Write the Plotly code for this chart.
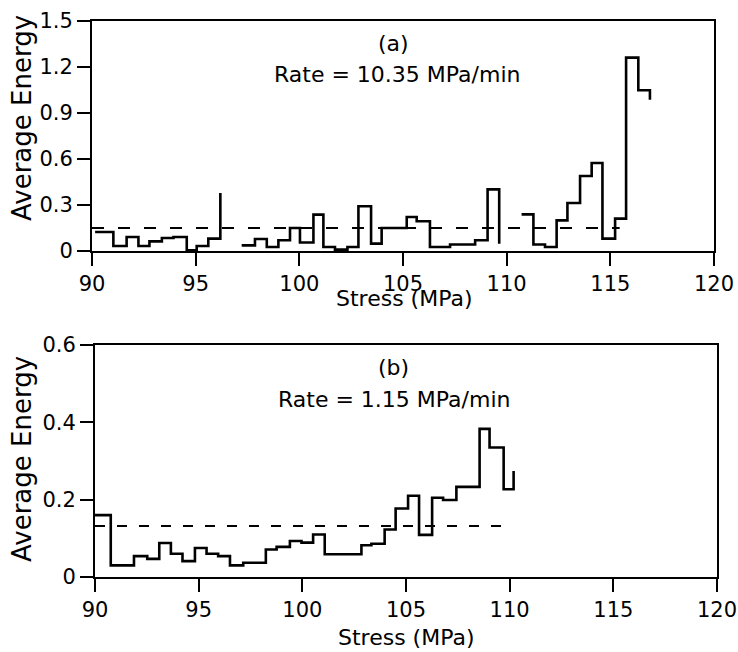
import plotly.graph_objects as go

# ---- Data (panel a: rate 10.35 MPa/min) ----
a1_edges = [90.15, 91.03, 91.67, 92.24, 92.77, 93.37, 93.93, 94.57, 95.05, 95.61, 96.19]
a1_vals = [0.124, 0.033, 0.091, 0.033, 0.063, 0.085, 0.091, 0.005, 0.033, 0.081, 0.378]

a2_edges = [97.22, 97.86, 98.43, 98.99, 99.55, 100.03, 100.68, 101.16, 101.72, 102.32,
            102.85, 103.46, 103.97, 105.18, 105.66, 106.30, 107.27, 108.48, 109.08, 109.64]
a2_vals = [0.037, 0.078, 0.026, 0.070, 0.150, 0.055, 0.237, 0.026, 0.009, 0.026,
           0.292, 0.048, 0.150, 0.222, 0.194, 0.026, 0.042, 0.070, 0.402, 0.048]

a3_edges = [110.72, 111.29, 111.85, 112.41, 112.93, 113.54, 114.10, 114.62, 115.23, 115.76, 116.35, 116.91]
a3_vals = [0.239, 0.042, 0.026, 0.200, 0.313, 0.489, 0.574, 0.081, 0.211, 1.261, 1.048, 0.987]

a_mean = 0.15
a_mean_span = [90.0, 115.45]

# ---- Data (panel b: rate 1.15 MPa/min) ----
b_edges = [90.0, 90.76, 91.88, 92.52, 93.10, 93.66, 94.22, 94.82, 95.38, 95.94, 96.51, 97.15,
           98.24, 98.76, 99.40, 99.96, 100.52, 101.08, 102.85, 103.33, 103.97, 104.50, 105.10,
           105.63, 106.26, 106.79, 107.43, 108.55, 109.03, 109.71, 110.19]
b_vals = [0.160, 0.030, 0.054, 0.047, 0.088, 0.060, 0.041, 0.075, 0.060, 0.054, 0.030, 0.037,
          0.071, 0.078, 0.093, 0.089, 0.110, 0.059, 0.082, 0.086, 0.123, 0.177, 0.210,
          0.109, 0.205, 0.199, 0.233, 0.383, 0.335, 0.227, 0.274]

b_mean = 0.132
b_mean_span = [90.0, 110.0]

x_ticks = [90, 95, 100, 105, 110, 115, 120]
a_yticks = [0, 0.3, 0.6, 0.9, 1.2, 1.5]
a_yticklabels = ["0", "0.3", "0.6", "0.9", "1.2", "1.5"]
b_yticks = [0, 0.2, 0.4, 0.6]
b_yticklabels = ["0", "0.2", "0.4", "0.6"]


def join_groups(groups):
    xs, ys = [], []
    for e, v in groups:
        if xs:
            xs.append(None)
            ys.append(None)
        xs.extend(e)
        ys.extend(v)
    return xs, ys


FONT = "DejaVu Sans"
W, H = 738, 652

fig = go.Figure()

ax, ay = join_groups([(a1_edges, a1_vals), (a2_edges, a2_vals), (a3_edges, a3_vals)])
fig.add_trace(go.Scatter(x=ax, y=ay, mode="lines", line=dict(shape="hv", color="black", width=2.6),
                         connectgaps=False, xaxis="x", yaxis="y", showlegend=False, cliponaxis=False))
fig.add_trace(go.Scatter(x=a_mean_span, y=[a_mean, a_mean], mode="lines",
                         line=dict(color="black", width=2, dash="12px,14px"),
                         xaxis="x", yaxis="y", showlegend=False))

bx, by = join_groups([(b_edges, b_vals)])
fig.add_trace(go.Scatter(x=bx, y=by, mode="lines", line=dict(shape="hv", color="black", width=2.6),
                         xaxis="x2", yaxis="y2", showlegend=False, cliponaxis=False))
fig.add_trace(go.Scatter(x=b_mean_span, y=[b_mean, b_mean], mode="lines",
                         line=dict(color="black", width=2, dash="10px,12px"),
                         xaxis="x2", yaxis="y2", showlegend=False))

axis_common = dict(showgrid=False, zeroline=False, showline=True, linecolor="black", linewidth=2,
                   mirror=True, ticks="outside", ticklen=13, tickwidth=2, tickcolor="black",
                   tickfont=dict(family=FONT, size=21, color="black"), automargin=False)

fig.update_layout(
    width=W, height=H, margin=dict(l=0, r=0, t=0, b=0),
    paper_bgcolor="white", plot_bgcolor="white",
    xaxis=dict(domain=[92 / W, 714 / W], range=[90, 120], tickvals=x_ticks,
               anchor="y", **axis_common),
    yaxis=dict(domain=[1 - 251 / H, 1 - 21 / H], range=[0, 1.5], tickvals=a_yticks,
               ticktext=a_yticklabels, anchor="x", **axis_common),
    xaxis2=dict(domain=[95 / W, 717 / W], range=[90, 120], tickvals=x_ticks,
                anchor="y2", **axis_common),
    yaxis2=dict(domain=[1 - 577 / H, 1 - 345 / H], range=[0, 0.6], tickvals=b_yticks,
                ticktext=b_yticklabels, anchor="x2", **axis_common),
)

tf = dict(family=FONT, size=22, color="black")
cm = dict(showarrow=False, xanchor="center", yanchor="middle")
ann = [
    dict(x=104.52, y=1.355, xref="x", yref="y", text="(a)", font=tf, **cm),
    dict(x=104.71, y=1.153, xref="x", yref="y", text="Rate = 10.35 MPa/min", font=tf, **cm),
    dict(x=104.40, y=0.543, xref="x2", yref="y2", text="(b)", font=tf, **cm),
    dict(x=104.41, y=0.458, xref="x2", yref="y2", text="Rate = 1.15 MPa/min", font=tf, **cm),
    dict(x=404 / W, y=1 - 298 / H, xref="paper", yref="paper", text="Stress (MPa)",
         font=dict(family=FONT, size=22, color="black"), **cm),
    dict(x=406 / W, y=1 - 637 / H, xref="paper", yref="paper", text="Stress (MPa)",
         font=dict(family=FONT, size=22, color="black"), **cm),
    dict(x=22 / W, y=1 - 118 / H, xref="paper", yref="paper", text="Average Energy",
         textangle=-90, font=dict(family=FONT, size=26, color="black"), **cm),
    dict(x=22 / W, y=1 - 459 / H, xref="paper", yref="paper", text="Average Energy",
         textangle=-90, font=dict(family=FONT, size=26, color="black"), **cm),
]
fig.update_layout(annotations=ann)

fig.write_html("out.html")
